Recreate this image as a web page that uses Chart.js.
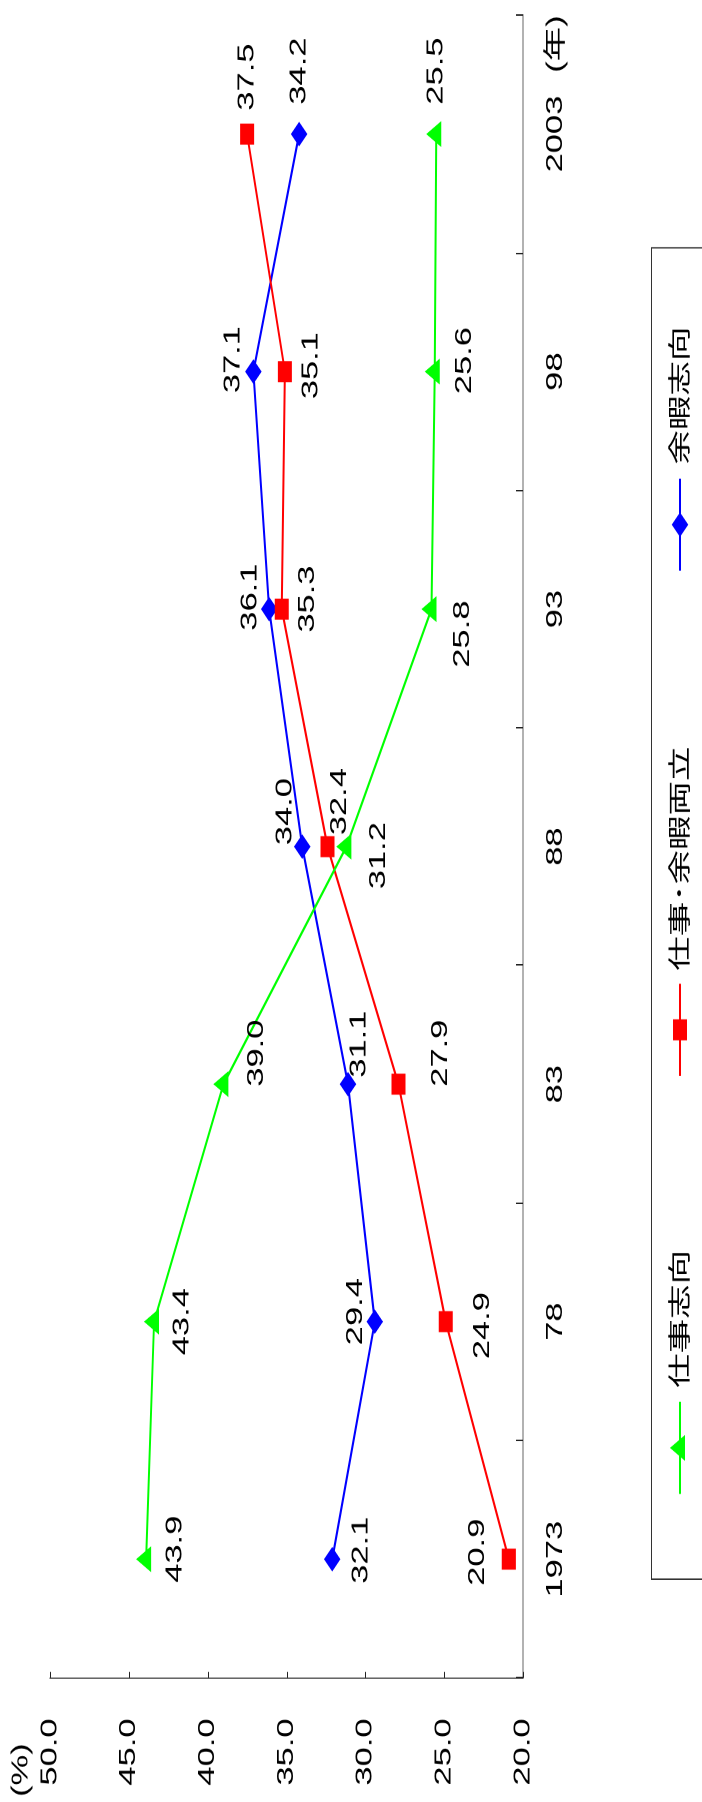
<!DOCTYPE html>
<html><head><meta charset="utf-8">
<script src="https://cdn.jsdelivr.net/npm/chart.js@4.4.0/dist/chart.umd.min.js"></script>
<style>
html,body{margin:0;padding:0;background:#fff;overflow:hidden;width:702px;height:1802px;}
#wrap{position:absolute;left:0;top:0;width:1201px;height:702px;transform-origin:0 0;transform:translate(0px,1802px) rotate(-90deg) scale(1.5004,1);}
canvas{display:block;}
</style></head><body>
<div id="wrap"><canvas id="c" width="1201" height="702" style="width:1201px;height:702px"></canvas></div>
<script>
// ---- data ----
const years = ['1973', '78', '83', '88', '93', '98', '2003'];
const workOriented = [43.9, 43.4, 39.0, 31.2, 25.8, 25.6, 25.5];
const balanceOriented = [20.9, 24.9, 27.9, 32.4, 35.3, 35.1, 37.5];
const leisureOriented = [32.1, 29.4, 31.1, 34.0, 36.1, 37.1, 34.2];
const seriesNames = ['仕事志向', '仕事･余暇両立', '余暇志向'];
const valueMin = 20, valueMax = 50, valueStep = 5;
const unitValue = '(%)';
const unitYear = '(年)';

// ---- styling / placement (original-orientation pixels) ----
const SX = 1.5; // horizontal stretch of the original chart
const FONT = "'Liberation Sans', Arial, 'Noto Sans CJK JP', sans-serif";
const labelOffsets = [
  [[10,29],[0,28],[31,33],[-9,32],[-25,31],[11,30],[63,0]],
  [[7,-31],[-4,37],[31,42],[45,12],[10,26],[6,26],[57,0]],
  [[9,29],[10,-19],[40,11],[35,-17],[12,-19],[12,-20],[63,0]]
];
const legendLayout = [
  {line:[308,400], text:414},
  {line:[726,818], text:831},
  {line:[1231,1323], text:1337}
];

const styles = [
  {color:'#00FF00', pointStyle:'triangle', radius:9},
  {color:'#FF0000', pointStyle:'rect', radius:9.2},
  {color:'#0000FF', pointStyle:'rectRot', radius:7.5}
];
const seriesData = [workOriented, balanceOriented, leisureOriented];

const datasets = seriesData.map((d, i) => ({
  label: seriesNames[i],
  data: d,
  borderColor: styles[i].color,
  backgroundColor: styles[i].color,
  pointBackgroundColor: styles[i].color,
  pointBorderColor: styles[i].color,
  pointStyle: styles[i].pointStyle,
  pointRadius: styles[i].radius,
  pointHoverRadius: styles[i].radius,
  pointBorderWidth: 1,
  borderWidth: 2,
  tension: 0,
  fill: false
}));

const extras = {
  id: 'extras',
  afterDraw(chart) {
    const ctx = chart.ctx;
    const xs = chart.scales.x, ys = chart.scales.y;
    const ca = chart.chartArea;
    ctx.save();
    // inner ticks
    ctx.strokeStyle = '#222';
    ctx.lineWidth = 1;
    ctx.beginPath();
    for (let i = 0; i <= years.length; i++) {
      const px = Math.round(xs.getPixelForValue(i - 0.5));
      ctx.moveTo(px, ca.bottom); ctx.lineTo(px, ca.bottom - 7);
    }
    ys.ticks.forEach(t => {
      const py = Math.round(ys.getPixelForValue(t.value)) + 0.5;
      ctx.moveTo(ca.left, py); ctx.lineTo(ca.left + 6 / SX, py);
    });
    ctx.stroke();

    // data labels
    ctx.fillStyle = '#000';
    ctx.font = '23px ' + FONT;
    ctx.textAlign = 'center';
    ctx.textBaseline = 'middle';
    chart.data.datasets.forEach((ds, di) => {
      const meta = chart.getDatasetMeta(di);
      meta.data.forEach((pt, i) => {
        const off = labelOffsets[di][i];
        ctx.fillText(ds.data[i].toFixed(1), pt.x + off[0] / SX, pt.y + off[1]);
      });
    });

    // unit labels
    ctx.textAlign = 'left';
    ctx.fillText(unitValue, 5 / SX, 21);
    ctx.textAlign = 'right';
    ctx.fillText(unitYear, ca.right, 556);

    // legend
    ctx.strokeStyle = '#333';
    ctx.lineWidth = 1;
    ctx.strokeRect(222 / SX + 0.5, 651.5, (1553 - 222) / SX, 80);
    legendLayout.forEach((L, i) => {
      const s = styles[i];
      ctx.strokeStyle = s.color;
      ctx.fillStyle = s.color;
      ctx.lineWidth = 2;
      ctx.beginPath();
      ctx.moveTo(L.line[0] / SX, 680); ctx.lineTo(L.line[1] / SX, 680);
      ctx.stroke();
      ctx.lineWidth = 1;
      Chart.helpers.drawPoint(ctx, {pointStyle: s.pointStyle, radius: s.radius, rotation: 0, borderWidth: 1},
        (L.line[0] + L.line[1]) / 2 / SX, 680);
      ctx.fillStyle = '#000';
      ctx.textAlign = 'left';
      ctx.textBaseline = 'middle';
      ctx.font = '23px ' + FONT;
      ctx.fillText(seriesNames[i], L.text / SX, 681);
    });
    ctx.restore();
  }
};

new Chart(document.getElementById('c'), {
  type: 'line',
  data: { labels: years, datasets },
  options: {
    responsive: false,
    animation: false,
    devicePixelRatio: 2,
    layout: { padding: { top: 50, right: 8, left: 0, bottom: 0 } },
    plugins: { legend: { display: false }, tooltip: { enabled: false } },
    scales: {
      x: {
        type: 'category',
        offset: true,
        grid: { display: false, drawTicks: false },
        border: { display: true, color: '#666', width: 1 },
        ticks: { color: '#000', font: { size: 23, family: FONT }, padding: 19, maxRotation: 0, autoSkip: false },
        afterFit(scale) { scale.height = 179; }
      },
      y: {
        min: valueMin, max: valueMax,
        grid: { display: false, drawTicks: false },
        border: { display: true, color: '#666', width: 1 },
        ticks: { stepSize: valueStep, color: '#000', font: { size: 23, family: FONT }, padding: 27,
          callback: v => Number(v).toFixed(1) },
        afterFit(scale) { scale.width = 124 / SX; }
      }
    }
  },
  plugins: [extras]
});
</script>
</body></html>
